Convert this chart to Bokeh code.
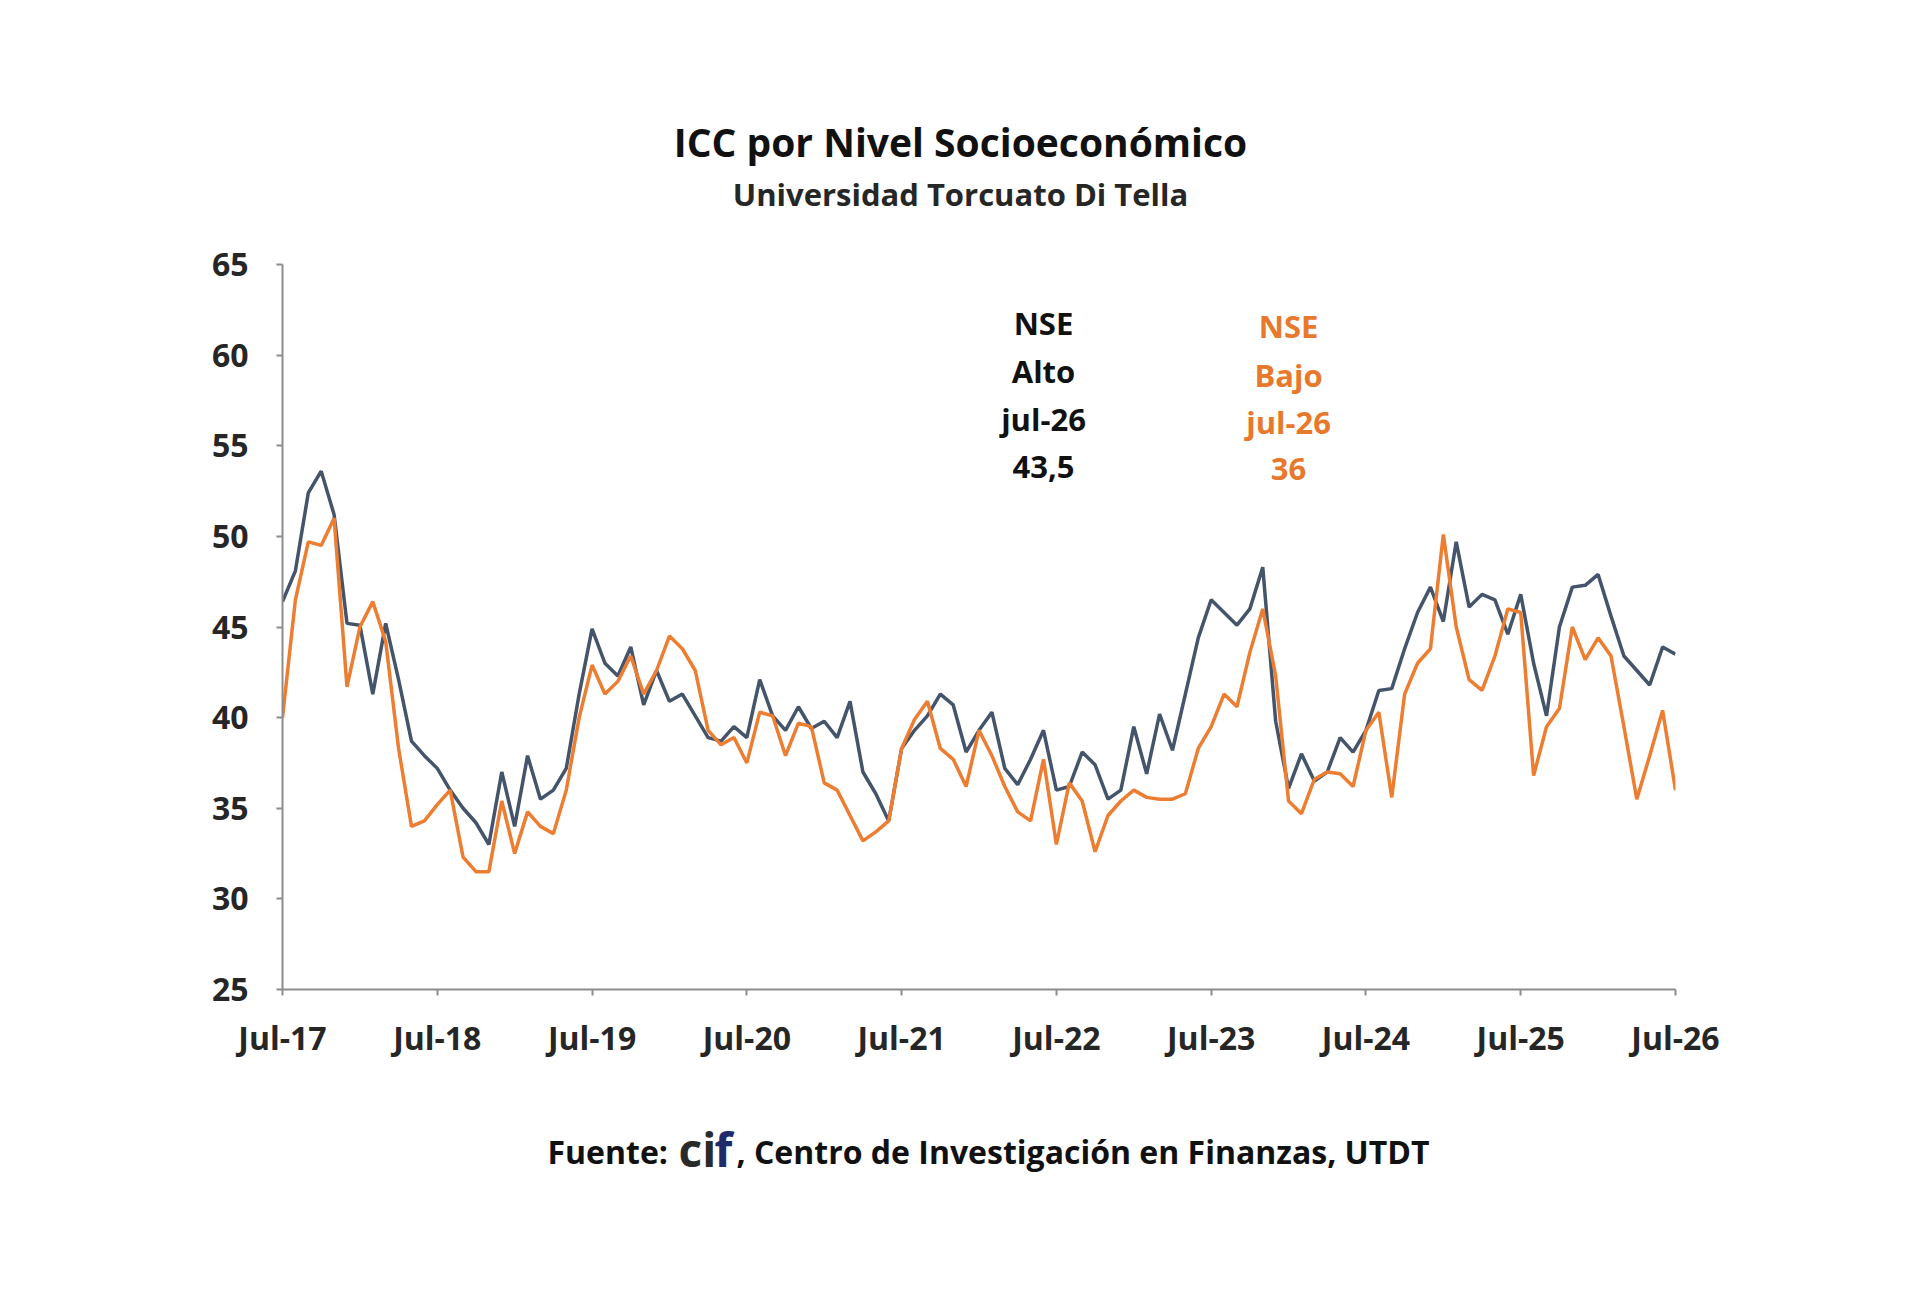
from bokeh.plotting import figure
from bokeh.models import Label, FixedTicker, Range1d
from bokeh.layouts import column
from bokeh.core.properties import value
from bokeh.embed import file_html
from bokeh.resources import INLINE

# ---- data (monthly, Jul-17 .. Jul-26) ----
tick_labels = ["Jul-17", "Jul-18", "Jul-19", "Jul-20", "Jul-21",
               "Jul-22", "Jul-23", "Jul-24", "Jul-25", "Jul-26"]

nse_alto = [46.4, 48.1, 52.4, 53.6, 51.2, 45.2, 45.1, 41.3, 45.2, 42.1,
            38.7, 37.9, 37.2, 36.0, 35.0, 34.2, 33.0, 37.0, 34.0, 37.9,
            35.5, 36.0, 37.2, 41.3, 44.9, 43.0, 42.3, 43.9, 40.7, 42.6,
            40.9, 41.3, 40.1, 38.9, 38.7, 39.5, 38.9, 42.1, 40.1, 39.3,
            40.6, 39.4, 39.8, 38.9, 40.9, 37.0, 35.8, 34.3, 38.3, 39.3,
            40.1, 41.3, 40.7, 38.1, 39.3, 40.3, 37.2, 36.3, 37.7, 39.3,
            36.0, 36.2, 38.1, 37.4, 35.5, 36.0, 39.5, 36.9, 40.2, 38.2,
            41.3, 44.4, 46.5, 45.8, 45.1, 46.0, 48.3, 39.8, 36.1, 38.0,
            36.5, 37.0, 38.9, 38.1, 39.3, 41.5, 41.6, 43.8, 45.8, 47.2,
            45.3, 49.7, 46.1, 46.8, 46.5, 44.6, 46.8, 43.0, 40.1, 45.0,
            47.2, 47.3, 47.9, 45.6, 43.4, 42.6, 41.8, 43.9, 43.5]

nse_bajo = [40.0, 46.5, 49.7, 49.5, 51.0, 41.7, 45.0, 46.4, 44.2, 38.3,
            34.0, 34.3, 35.2, 36.0, 32.3, 31.5, 31.5, 35.4, 32.5, 34.8,
            34.0, 33.6, 36.0, 40.0, 42.9, 41.3, 42.0, 43.4, 41.3, 42.6,
            44.5, 43.8, 42.6, 39.3, 38.5, 38.9, 37.5, 40.3, 40.1, 37.9,
            39.7, 39.5, 36.4, 36.0, 34.6, 33.2, 33.7, 34.3, 38.3, 39.9,
            40.9, 38.3, 37.7, 36.2, 39.3, 37.9, 36.2, 34.8, 34.3, 37.7,
            33.0, 36.4, 35.4, 32.6, 34.6, 35.4, 36.0, 35.6, 35.5, 35.5,
            35.8, 38.3, 39.5, 41.3, 40.6, 43.6, 46.0, 42.3, 35.4, 34.7,
            36.6, 37.0, 36.9, 36.2, 39.3, 40.3, 35.6, 41.3, 43.0, 43.8,
            50.1, 45.0, 42.1, 41.5, 43.4, 46.0, 45.8, 36.8, 39.5, 40.5,
            45.0, 43.2, 44.4, 43.4, 39.5, 35.5, 37.9, 40.4, 36.0]

y_ticks = [25, 30, 35, 40, 45, 50, 55, 60, 65]

months = list(range(len(nse_alto)))
x_ticks = list(range(0, len(nse_alto), 12))

FONT = "Open Sans"
DARK = "#44546A"
ORANGE = "#ED7D31"
W = 1920
HEAD_H = 230
MAIN_H = 870
FOOT_H = 200
FL, FR = 282, 1675  # frame left / right, page px


def blank(h):
    f = figure(width=W, height=h, output_backend="svg", toolbar_location=None,
               x_range=Range1d(FL, FR), y_range=Range1d(h, 0),
               x_axis_type=None, y_axis_type=None,
               min_border_left=FL, min_border_right=W - FR,
               min_border_top=0, min_border_bottom=0)
    f.outline_line_color = None
    f.background_fill_color = "white"
    f.border_fill_color = "white"
    return f


# ---- header ----
head = blank(HEAD_H)
head.text(x=[960], y=[141], text=["ICC por Nivel Socioeconómico"],
          text_font=value(FONT), text_font_size=value("39px"), text_font_style="bold",
          text_align="center", text_baseline="middle", text_color="#111111")
head.text(x=[960], y=[193], text=["Universidad Torcuato Di Tella"],
          text_font=value(FONT), text_font_size=value("31px"), text_font_style="bold",
          text_align="center", text_baseline="middle", text_color="#262626")

# ---- main chart ----
p = figure(width=W, height=MAIN_H, output_backend="svg", toolbar_location=None,
           x_range=Range1d(0, 108), y_range=Range1d(25, 65),
           min_border_left=FL, min_border_right=W - FR,
           min_border_top=264 - HEAD_H, min_border_bottom=HEAD_H + MAIN_H - 989)
p.outline_line_color = None
p.xgrid.visible = False
p.ygrid.visible = False
p.background_fill_color = "white"
p.border_fill_color = "white"

p.xaxis.ticker = FixedTicker(ticks=x_ticks)
p.xaxis.major_label_overrides = {t: lab for t, lab in zip(x_ticks, tick_labels)}
p.yaxis.ticker = FixedTicker(ticks=y_ticks)
for ax in (p.xaxis[0], p.yaxis[0]):
    ax.axis_line_color = "#8c8c8c"
    ax.axis_line_width = 2
    ax.major_tick_line_color = "#8c8c8c"
    ax.major_tick_line_width = 2
    ax.major_tick_in = 0
    ax.major_tick_out = 6
    ax.minor_tick_line_color = None
    ax.major_label_text_font = FONT
    ax.major_label_text_font_size = "32px"
    ax.major_label_text_font_style = "bold"
    ax.major_label_text_color = "#262626"
p.xaxis.major_label_standoff = 20
p.yaxis.major_label_standoff = 28

p.line(months, nse_alto, line_color=DARK, line_width=3.5)
p.line(months, nse_bajo, line_color=ORANGE, line_width=3.5)

alto_lines = ["NSE", "Alto", "jul-26", "43,5"]
bajo_lines = ["NSE", "Bajo", "jul-26", "36"]
ys_a = [61.75, 59.15, 56.45, 53.85]
ys_b = [61.58, 58.88, 56.3, 53.69]
for t, yy in zip(alto_lines, ys_a):
    p.add_layout(Label(x=59.0, y=yy, text=t, text_font=FONT, text_font_size="31px",
                       text_font_style="bold", text_align="center",
                       text_baseline="middle", text_color="#111111"))
for t, yy in zip(bajo_lines, ys_b):
    p.add_layout(Label(x=78.0, y=yy, text=t, text_font=FONT, text_font_size="31px",
                       text_font_style="bold", text_align="center",
                       text_baseline="middle", text_color="#E8792C"))

# ---- footer ----
foot = blank(FOOT_H)
fm = 1151 - HEAD_H - MAIN_H  # text middle, px from top of footer
foot.text(x=[547], y=[fm], text=["Fuente:"], text_font=value(FONT),
          text_font_size=value("32px"), text_font_style="bold",
          text_baseline="middle", text_color="#111111")
foot.text(x=[678], y=[fm - 3], text=["ci"], text_font=value(FONT),
          text_font_size=value("46px"), text_font_style="bold",
          text_baseline="middle", text_color="#2a2a2a")
foot.text(x=[714], y=[fm - 3], text=["f"], text_font=value(FONT),
          text_font_size=value("46px"), text_font_style="bold",
          text_baseline="middle", text_color="#1F2A6B")
foot.text(x=[736], y=[fm], text=[", Centro de Investigación en Finanzas, UTDT"],
          text_font=value(FONT), text_font_size=value("32px"), text_font_style="bold",
          text_baseline="middle", text_color="#111111")

layout = column(head, p, foot, spacing=0)
open("out.html", "w").write(file_html(layout, INLINE))
